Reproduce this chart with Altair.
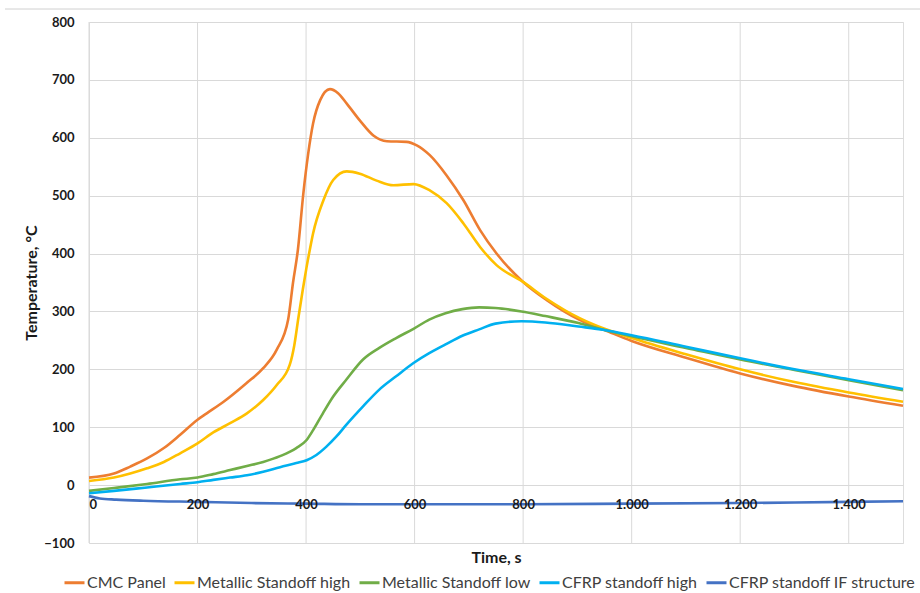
import altair as alt
import pandas as pd

series_names = ["CMC Panel", "Metallic Standoff high", "Metallic Standoff low",
                "CFRP standoff high", "CFRP standoff IF structure"]
series_colors = ["#ED7D31", "#FFC000", "#70AD47", "#00B0F0", "#4472C4"]

cmc_time = [0, 46, 76, 107, 138, 168, 200, 217, 248, 290, 321, 346, 367, 376, 385, 395, 404, 413,
            426, 444, 459, 475, 499, 524, 549, 585, 604, 628, 659, 690, 721, 751, 800, 843, 905,
            950, 1000, 1100, 1200, 1300, 1400, 1500]
cmc_temp = [13, 20, 32, 46, 64, 87, 113, 124, 144, 176, 202, 234, 286, 350, 407, 504, 573, 625,
            665, 684, 677, 659, 630, 604, 594, 593, 587, 570, 535, 492, 440, 400, 351, 320, 285,
            268, 249, 220, 193, 171, 153, 137]

msh_time = [0, 46, 76, 107, 138, 168, 200, 229, 260, 291, 321, 346, 370, 378, 386, 394, 401, 407,
            413, 432, 450, 475, 499, 530, 561, 598, 628, 659, 690, 721, 751, 800, 843, 905, 950,
            1000, 1100, 1200, 1300, 1400, 1500]
msh_temp = [7, 13, 20, 29, 40, 55, 72, 91, 107, 124, 147, 173, 208, 240, 290, 338, 377, 407,
            435, 492, 527, 542, 538, 526, 518, 520, 509, 487, 452, 411, 380, 351, 322, 288, 270,
            254, 226, 200, 178, 160, 144]

msl_time = [0, 46, 107, 168, 200, 229, 260, 291, 321, 352, 382, 401, 413, 431, 450, 474, 505, 535,
            566, 598, 627, 657, 688, 719, 749, 797, 841, 902, 950, 1000, 1100, 1200, 1300, 1400, 1500]
msl_temp = [-10, -5, 2, 10, 13, 19, 26, 33, 40, 50, 64, 78, 95, 124, 153, 182, 217, 237,
            254, 270, 286, 297, 304, 307, 306, 300, 292, 280, 268, 257, 237, 217, 199, 181, 164]

cfh_time = [0, 46, 107, 168, 200, 229, 260, 291, 321, 352, 382, 401, 419, 437, 456, 474, 505, 535,
            566, 598, 627, 657, 688, 719, 749, 797, 841, 902, 950, 1000, 1100, 1200, 1300, 1400, 1500]
cfh_temp = [-14, -10, -4, 2, 5, 9, 13, 17, 23, 31, 38, 43, 52, 66, 84, 104, 136, 165,
            188, 211, 228, 243, 258, 269, 279, 283, 281, 274, 268, 259, 239, 219, 200, 183, 166]

cfi_time = [0, 20, 50, 100, 200, 300, 400, 500, 600, 800, 1000, 1200, 1400, 1500]
cfi_temp = [-19, -23, -25, -27, -29, -31, -32, -33, -33, -33, -32, -31, -29, -28]

x_ticks = [0, 200, 400, 600, 800, 1000, 1200, 1400]
y_ticks = [-100, 0, 100, 200, 300, 400, 500, 600, 700, 800]

rows = []
for name, ts, vs in zip(series_names,
                        [cmc_time, msh_time, msl_time, cfh_time, cfi_time],
                        [cmc_temp, msh_temp, msl_temp, cfh_temp, cfi_temp]):
    for i, (t, v) in enumerate(zip(ts, vs)):
        rows.append({"series": name, "time": t, "temp": v, "idx": i})
df = pd.DataFrame(rows)
df["order"] = df["series"].map({n: k for k, n in enumerate(series_names)})

W, H = 814, 521
FONT = "Lato"
GRID = "#d9d9d9"

xscale = alt.Scale(domain=[0, 1500], nice=False, zero=False)
yscale = alt.Scale(domain=[-100, 800], nice=False)

vgrid = alt.Chart(pd.DataFrame({"t": x_ticks})).mark_rule(color=GRID, strokeWidth=1).encode(
    x=alt.X("t:Q", scale=xscale,
            axis=alt.Axis(values=x_ticks, grid=False, ticks=False, domain=False,
                          offset=-58, labelPadding=13, labelFont=FONT, labelFontSize=13,
                          labelFontWeight="bold", labelColor="#1a1a1a",
                          labelExpr="replace(format(datum.value, ','), ',', '.')",
                          title="Time, s", titleFont=FONT, titleFontSize=16,
                          titleFontWeight="bold", titleColor="#1a1a1a",
                          titleY=72, titleBaseline="middle", zindex=2)),
    y=alt.value(0),
    y2=alt.value(H),
)

lines = alt.Chart(df).mark_line(strokeWidth=2.6, interpolate="monotone").encode(
    x=alt.X("time:Q", scale=xscale),
    y=alt.Y("temp:Q", scale=yscale,
            axis=alt.Axis(values=y_ticks, gridColor=GRID, domain=False, ticks=False,
                          labelPadding=15, labelFont=FONT, labelFontSize=13,
                          labelFontWeight="bold", labelColor="#1a1a1a",
                          title="Temperature, °C", titleFont=FONT, titleFontSize=16,
                          titleFontWeight="bold", titleColor="#1a1a1a", titlePadding=4)),
    color=alt.Color("series:N", sort=series_names,
                    scale=alt.Scale(domain=series_names, range=series_colors),
                    legend=alt.Legend(title=None, orient="none", direction="horizontal",
                                      legendX=-26, legendY=549, symbolType="stroke",
                                      symbolSize=400, symbolStrokeWidth=3, labelOffset=1,
                                      columnPadding=2, labelFont=FONT, labelFontSize=16,
                                      labelColor="#404040", labelLimit=400)),
    detail="order:O",
    order="idx:Q",
)

top_border = alt.Chart(pd.DataFrame({"a": [0]})).mark_rule(color="#d0d0d0", strokeWidth=1).encode(
    x=alt.value(-84), x2=alt.value(831), y=alt.value(-13)
)

chart = alt.layer(vgrid, lines, top_border).properties(
    width=W, height=H,
    padding={"left": 89, "top": 22, "right": 17, "bottom": 50},
    autosize=alt.AutoSizeParams(type="none"),
).configure_view(stroke=None).configure(background="white")

chart.save("out.html", embed_options={"renderer": "svg", "actions": False})
